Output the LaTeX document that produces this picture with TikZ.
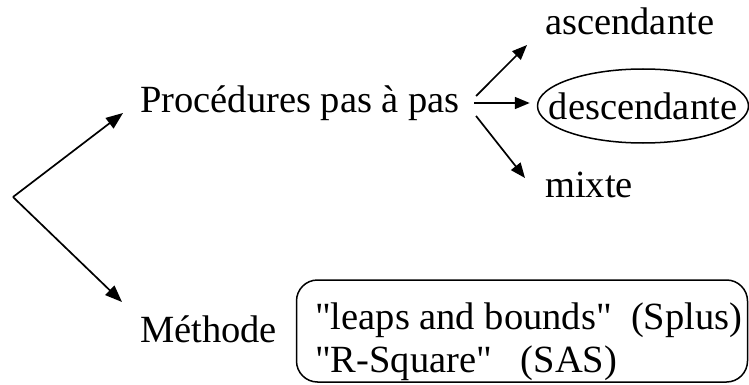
\documentclass[tikz,border=0pt]{standalone}
\usepackage{fontspec}
\setmainfont{Liberation Serif}[Ligatures=TeXOff]
\usetikzlibrary{arrows.meta,shapes.geometric}
\begin{document}
\begin{tikzpicture}[x=1pt,y=-1pt,
  txt/.style={inner sep=0pt,font=\fontsize{38.5}{43}\selectfont},
  frame/.style={draw,line width=1.5pt,inner sep=0pt},
  bigarr/.style={line width=1.7pt,-{Triangle[length=17pt,width=13pt]}},
  smallarr/.style={line width=1.7pt,-{Triangle[length=15pt,width=12pt]}}]
\useasboundingbox (0,0) rectangle (749,385);

% root of the tree
\coordinate (root) at (13,197);

% first level
\node[txt,anchor=base west] (proc) at (140,113) {Procédures pas à pas};
\node[txt,anchor=base west] (meth) at (140,342) {Méthode};

% stepwise variants
\node[txt,anchor=base west] (asc) at (545,35) {ascendante};
\node[frame,ellipse,minimum width=211pt,minimum height=74pt] (ell) at (643,106) {};
\node[txt] (desc) at (ell.center) {descendante};
\node[txt,anchor=base west] (mix) at (545,197) {mixte};

% exhaustive search methods
\node[frame,rounded corners=21pt,minimum width=451pt,minimum height=102pt] (box) at (522,331) {};
\node[txt,align=left,anchor=north west] (boxtxt) at (315,303)
  {"leaps and bounds"\ \ (Splus)\\ "R-Square"\ \ \ (SAS)};

% connectors
\draw[bigarr] (root) -- ([shift={(-17,0)}]proc.base west);
\draw[bigarr] (root) -- ([shift={(-18,-40)}]meth.base west);

\draw[smallarr] ([shift={(16,-17)}]proc.base east) -- ([shift={(-18,10)}]asc.base west);
\draw[smallarr] ([shift={(14,-10)}]proc.base east) -- ([shift={(-7,-3)}]ell.west);
\draw[smallarr] ([shift={(16,3)}]proc.base east) -- ([shift={(-20,-19)}]mix.base west);
\end{tikzpicture}
\end{document}
